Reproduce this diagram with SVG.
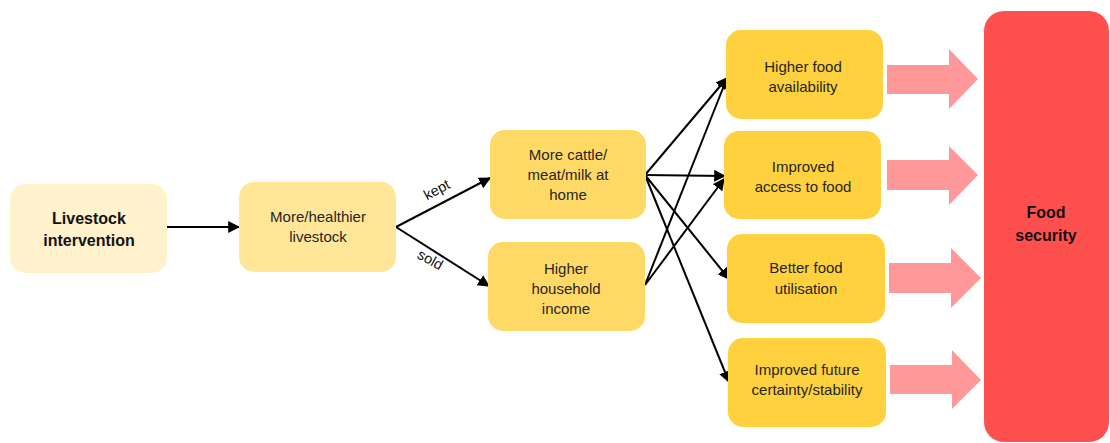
<svg xmlns="http://www.w3.org/2000/svg" width="1110" height="443" viewBox="0 0 1110 443">
  <style>
    .lbl { font-family: "Liberation Sans", Arial, sans-serif; font-size: 15px; fill: #262626; text-anchor: middle; }
    .bold { font-weight: bold; font-size: 16px; fill: #111; }
    .tag { font-family: "Liberation Sans", Arial, sans-serif; font-size: 14.5px; fill: #111; text-anchor: middle; }
    .edge { stroke: #000; stroke-width: 2; fill: none; marker-end: url(#head); }
    .big { fill: #FF9999; }
  </style>
  <defs>
    <marker id="head" viewBox="0 0 10 10" refX="9" refY="5" markerWidth="6" markerHeight="6" orient="auto" markerUnits="strokeWidth">
      <path d="M0,0 L10,5 L0,10 z" fill="#000"/>
    </marker>
  </defs>

  <!-- connectors -->
  <g id="connectors">
    <line class="edge" x1="166" y1="227" x2="239" y2="227"/>
    <line class="edge" x1="396" y1="227" x2="490" y2="178"/>
    <line class="edge" x1="396" y1="227" x2="489" y2="286"/>
    <line class="edge" x1="645" y1="175" x2="727" y2="78"/>
    <line class="edge" x1="645" y1="175" x2="725" y2="176"/>
    <line class="edge" x1="645" y1="175" x2="729" y2="279"/>
    <line class="edge" x1="645" y1="175" x2="729" y2="382"/>
    <line class="edge" x1="645" y1="285" x2="727" y2="78"/>
    <line class="edge" x1="645" y1="285" x2="724" y2="179"/>
    <text class="tag" transform="translate(439,194) rotate(-28)">kept</text>
    <text class="tag" transform="translate(428,264) rotate(29)">sold</text>
  </g>

  <!-- wide arrows into food security -->
  <g id="flow-arrows">
    <path class="big" d="M887,65 H949 V49 L978,79 L949,109 V94 H887 Z"/>
    <path class="big" d="M887,160 H949 V146 L978,175 L949,205 V190 H887 Z"/>
    <path class="big" d="M889,263 H951 V248 L981,278 L951,308 V293 H889 Z"/>
    <path class="big" d="M890,365 H952 V350 L981,380 L952,409 V394 H890 Z"/>
  </g>

  <g id="livestock-intervention">
    <rect x="10" y="184" width="157" height="89" rx="15" fill="#FFF2CC"/>
    <text class="lbl bold" x="89" y="224">Livestock</text>
    <text class="lbl bold" x="89" y="246">intervention</text>
  </g>

  <g id="healthier-livestock">
    <rect x="239" y="182" width="157" height="90" rx="15" fill="#FFE699"/>
    <text class="lbl" x="318" y="222">More/healthier</text>
    <text class="lbl" x="318" y="242">livestock</text>
  </g>

  <g id="cattle-at-home">
    <rect x="490" y="130" width="156" height="89" rx="15" fill="#FFD966"/>
    <text class="lbl" x="568" y="160">More cattle/</text>
    <text class="lbl" x="568" y="180">meat/milk at</text>
    <text class="lbl" x="568" y="200">home</text>
  </g>

  <g id="household-income">
    <rect x="488" y="242" width="157" height="89" rx="15" fill="#FFD966"/>
    <text class="lbl" x="566" y="274">Higher</text>
    <text class="lbl" x="566" y="294">household</text>
    <text class="lbl" x="566" y="314">income</text>
  </g>

  <g id="food-availability">
    <rect x="726" y="30" width="157" height="89" rx="15" fill="#FFD13F"/>
    <text class="lbl" x="803" y="72">Higher food</text>
    <text class="lbl" x="803" y="92">availability</text>
  </g>

  <g id="food-access">
    <rect x="724" y="131" width="157" height="88" rx="15" fill="#FFD13F"/>
    <text class="lbl" x="803" y="172">Improved</text>
    <text class="lbl" x="803" y="192">access to food</text>
  </g>

  <g id="food-utilisation">
    <rect x="727" y="234" width="158" height="89" rx="15" fill="#FFD13F"/>
    <text class="lbl" x="806" y="273">Better food</text>
    <text class="lbl" x="806" y="294">utilisation</text>
  </g>

  <g id="future-stability">
    <rect x="728" y="338" width="158" height="89" rx="15" fill="#FFD13F"/>
    <text class="lbl" x="807" y="375">Improved future</text>
    <text class="lbl" x="807" y="395">certainty/stability</text>
  </g>

  <g id="food-security">
    <rect x="984" y="11" width="125" height="431" rx="20" fill="#FF5050"/>
    <text class="lbl bold" x="1046" y="218">Food</text>
    <text class="lbl bold" x="1046" y="241">security</text>
  </g>
</svg>
